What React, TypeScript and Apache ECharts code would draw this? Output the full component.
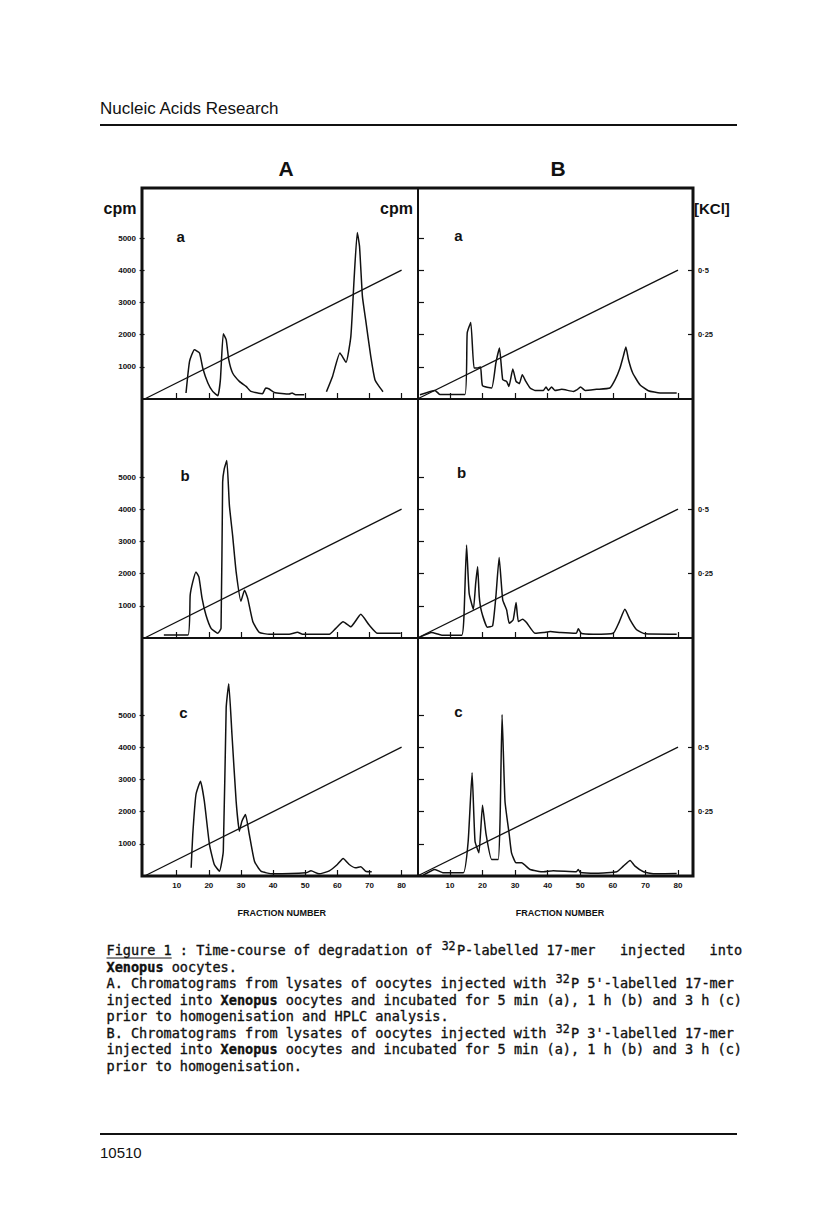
import React, { useEffect, useRef } from "react";
import * as echarts from "echarts";

// ---------- data (fraction number, cpm) ----------
const fractionTicks = [10, 20, 30, 40, 50, 60, 70, 80];
const cpmTicks = [1000, 2000, 3000, 4000, 5000];
const kclTicks = [0.25, 0.5];
const kclFraction = [0, 80];
const kclMolar = [0, 0.5];

const A_a: [number, number | null][] = [
  [12.9, 186], [14, 1168], [15.5, 1531], [17.1, 1428], [18.1, 963], [19.7, 497], [21.2, 236], [22.8, 102],
  [23.6, 600], [24.5, 2028], [25.4, 1842], [26.2, 1220], [27.4, 807], [29.5, 547], [31.6, 391], [33.1, 236],
  [36.7, 165], [37.7, 342], [38.8, 311], [40.4, 205], [45, 155], [45.9, 186], [47, 134], [49.7, 134],
  [53, null],
  [56.6, 227], [58.5, 702], [60.8, 1428], [62.7, 1137], [64.2, 1944], [65.2, 3705], [66.2, 5174], [66.9, 4739],
  [67.8, 3186], [68.8, 2463], [70.4, 1323], [71.7, 599], [73, 391], [74.2, 227],
];
const A_b: [number, number][] = [
  [6, 90], [13.5, 93], [14.2, 1331], [15, 1743], [16, 2053], [16.9, 1898], [17.9, 1229], [19.1, 712], [20.7, 300],
  [22.8, 146], [23.8, 300], [24.3, 4839], [24.8, 5252], [25.6, 5511], [26.4, 4118], [27.4, 3189], [28.5, 2053],
  [30, 1145], [31.1, 1486], [32.1, 1229], [33.7, 505], [35.7, 176], [38.8, 115], [45, 115], [47.6, 176],
  [49.2, 115], [57.5, 115], [59.5, 300], [61.8, 505], [64.2, 350], [67.3, 734], [69.9, 402], [72.5, 146], [79.7, 146],
];
const A_c: [number, number][] = [
  [14.5, 254], [15, 1289], [16, 2531], [17.4, 2944], [18.6, 2323], [20.2, 978], [21.7, 357], [23.3, 149],
  [24.5, 770], [25.4, 5224], [26.2, 5969], [27.2, 4394], [28.5, 2323], [29.5, 1391], [30.3, 1702], [31.4, 1910],
  [32.6, 1289], [34.2, 460], [36.2, 149], [39.8, 68], [50.2, 99], [51.8, 160], [54.3, 68], [57.5, 160], [60, 357],
  [61.8, 543], [63.7, 357], [65.7, 254], [67.3, 285], [68.8, 149], [70.7, 130],
];
const B_a: [number, number][] = [
  [0.8, 134], [5.4, 267], [6.9, 143], [14.6, 143], [15.3, 2050], [16.4, 2379], [17.4, 963], [18.5, 963], [19.4, 994],
  [20, 413], [22.8, 342], [24.1, 1118], [25.2, 1584], [26.2, 599], [27.4, 547], [28.1, 391], [29.3, 932], [30.3, 547],
  [31.3, 475], [32.2, 755], [33.3, 547], [34.6, 342], [36.1, 267], [38.7, 267], [39.5, 373], [40.2, 267], [41.2, 373],
  [42.2, 267], [44.3, 300], [47.9, 236], [48.9, 280], [50.1, 373], [51.5, 267], [55, 300], [59.1, 342], [60.7, 599],
  [62.2, 963], [63.2, 1323], [64, 1615], [64.8, 1220], [66.1, 807], [68.3, 444], [70.9, 258], [74.5, 186], [79.6, 186],
];
const B_b: [number, number][] = [
  [0.8, 25], [4.4, 170], [7.5, 87], [13.6, 87], [14.3, 666], [15.1, 2885], [15.9, 1387], [17.2, 892], [17.9, 1697],
  [18.5, 2214], [19, 1285], [19.7, 820], [21.5, 334], [23.1, 377], [24.1, 1285], [25.1, 2502], [26.2, 1183],
  [27.4, 873], [28.2, 458], [29.4, 563], [30.3, 1099], [31, 511], [32.3, 582], [33.5, 480], [36.1, 149], [38.7, 170],
  [40.8, 200], [44, 170], [48.8, 149], [49.4, 285], [50.4, 140], [54, 118], [60.1, 149], [62, 511], [63.7, 892],
  [65.3, 563], [67.3, 254], [69.9, 130], [79.6, 118],
];
const B_c: [number, number][] = [
  [1.8, 25], [5.4, 202], [8, 99], [14.1, 99], [15.6, 1081], [16.8, 3205], [17.7, 1081], [18.9, 720], [20, 2199],
  [21.1, 1289], [22.8, 512], [24.8, 512], [25.4, 1807], [26, 5016], [26.9, 2323], [28.2, 1289], [28.9, 720],
  [30.3, 410], [32, 410], [34.6, 202], [38.7, 130], [41.7, 161], [48.8, 130], [49.4, 202], [50, 110], [55, 85],
  [61.2, 130], [63.2, 305], [65.3, 481], [66.8, 305], [69.4, 130], [72.4, 68], [79.6, 80],
];

const panelLetters = ["a", "b", "c"];
const columnTitles = ["A", "B"];

// caption lines: [kind, text]; kinds: n normal, b bold, u underlined, s superscript
const captionLines: [string, string][][] = [
  [["u", "Figure 1"], ["n", " : Time-course of degradation of "], ["s", "32"], ["n", "P-labelled 17-mer   injected   into"]],
  [["b", "Xenopus"], ["n", " oocytes."]],
  [["n", "A. Chromatograms from lysates of oocytes injected with "], ["s", "32"], ["n", "P 5'-labelled 17-mer"]],
  [["n", "injected into "], ["b", "Xenopus"], ["n", " oocytes and incubated for 5 min (a), 1 h (b) and 3 h (c)"]],
  [["n", "prior to homogenisation and HPLC analysis."]],
  [["n", "B. Chromatograms from lysates of oocytes injected with "], ["s", "32"], ["n", "P 3'-labelled 17-mer"]],
  [["n", "injected into "], ["b", "Xenopus"], ["n", " oocytes and incubated for 5 min (a), 1 h (b) and 3 h (c)"]],
  [["n", "prior to homogenisation."]],
];

// ---------- layout ----------
const ROWS = [
  { top: 188, height: 211 },
  { top: 399, height: 239 },
  { top: 638, height: 238 },
];
const COLS = [
  { left: 142, width: 276, min: -0.8, max: 85.1 },
  { left: 418, width: 275, min: 0.2, max: 84.6 },
];
const PX_PER_CPM = 0.0322;
const CPM_PER_MOLAR = 8000;
const LETTER_POS = [
  [[180.7, 236], [458.3, 235]],
  [[185, 475], [461.7, 472]],
  [[183.3, 712], [458.3, 711]],
];

const INK = "#111";
const SANS = "Liberation Sans, Arial, sans-serif";
const MONO = "DejaVu Sans Mono, monospace";

function txt(x: number, y: number, text: string, size: number, weight: string, family: string, align = "left", extra: any = {}) {
  return {
    type: "text",
    x,
    y,
    silent: true,
    style: {
      text,
      fill: INK,
      fontSize: size,
      fontWeight: weight,
      fontFamily: family,
      align,
      textAlign: align,
      verticalAlign: "middle",
      textVerticalAlign: "middle",
      ...extra,
    },
  };
}

function line(x1: number, y1: number, x2: number, y2: number, w: number) {
  return { type: "line", silent: true, shape: { x1, y1, x2, y2 }, style: { stroke: INK, lineWidth: w } };
}

function buildOption() {
  const panels = [
    [A_a, B_a],
    [A_b, B_b],
    [A_c, B_c],
  ];
  const grid: any[] = [];
  const xAxis: any[] = [];
  const yAxis: any[] = [];
  const series: any[] = [];
  const tickStyle = { color: INK, width: 1.2 };
  const kclData = kclFraction.map((f, k) => [f, kclMolar[k]]);

  for (let r = 0; r < 3; r++) {
    for (let c = 0; c < 2; c++) {
      const i = r * 2 + c;
      const cpmMax = ROWS[r].height / PX_PER_CPM;
      grid.push({
        left: COLS[c].left,
        top: ROWS[r].top,
        width: COLS[c].width,
        height: ROWS[r].height,
        show: true,
        borderColor: INK,
        borderWidth: 2,
        backgroundColor: "transparent",
      });
      xAxis.push({
        gridIndex: i,
        type: "value",
        min: COLS[c].min,
        max: COLS[c].max,
        axisLine: { show: false },
        splitLine: { show: false },
        axisTick: { show: true, inside: true, length: 6, customValues: fractionTicks, lineStyle: tickStyle },
        axisLabel: {
          show: r === 2,
          customValues: fractionTicks,
          formatter: (v: number) => String(v),
          fontSize: 8,
          fontWeight: "bold",
          fontFamily: SANS,
          color: INK,
          margin: 5,
        },
      });
      yAxis.push({
        gridIndex: i,
        type: "value",
        min: 0,
        max: cpmMax,
        position: "left",
        axisLine: { show: false },
        splitLine: { show: false },
        axisTick: { show: true, inside: c === 1, length: c === 0 ? 5 : 6, customValues: cpmTicks, lineStyle: tickStyle },
        axisLabel: {
          show: c === 0,
          customValues: cpmTicks,
          formatter: (v: number) => String(v),
          fontSize: 8,
          fontWeight: "bold",
          fontFamily: SANS,
          color: INK,
          margin: 6,
        },
      });
      yAxis.push({
        gridIndex: i,
        type: "value",
        min: 0,
        max: cpmMax / CPM_PER_MOLAR,
        position: "right",
        show: c === 1,
        axisLine: { show: false },
        splitLine: { show: false },
        axisTick: { show: true, inside: true, length: 5, customValues: kclTicks, lineStyle: tickStyle },
        axisLabel: {
          show: true,
          customValues: kclTicks,
          formatter: (v: number) => String(v).replace(".", "·"),
          fontSize: 7.5,
          fontWeight: "bold",
          fontFamily: SANS,
          color: INK,
          margin: 5,
        },
      });
      series.push({
        type: "line",
        xAxisIndex: i,
        yAxisIndex: 2 * i,
        data: panels[r][c],
        showSymbol: false,
        symbol: "none",
        smooth: 0.15,
        connectNulls: false,
        silent: true,
        lineStyle: { color: INK, width: 1.5 },
      });
      series.push({
        type: "line",
        xAxisIndex: i,
        yAxisIndex: 2 * i + 1,
        data: kclData,
        showSymbol: false,
        symbol: "none",
        silent: true,
        lineStyle: { color: INK, width: 1.3 },
      });
    }
  }

  const g: any[] = [];
  // page header
  g.push(txt(100, 108, "Nucleic Acids Research", 17, "normal", SANS));
  g.push(line(100, 125, 737, 125, 2));
  // column titles
  g.push(txt(286, 168, columnTitles[0], 21, "bold", SANS, "center"));
  g.push(txt(558, 168, columnTitles[1], 21, "bold", SANS, "center"));
  // outer frame
  g.push({ type: "rect", silent: true, shape: { x: 142, y: 188, width: 551, height: 688 }, style: { fill: "none", stroke: INK, lineWidth: 3 } });
  // axis titles
  g.push(txt(120, 208, "cpm", 16, "bold", SANS, "center"));
  g.push(txt(396.5, 208, "cpm", 16, "bold", SANS, "center"));
  g.push(txt(694, 208, "[KCl]", 15, "bold", SANS, "left"));
  // panel letters
  for (let r = 0; r < 3; r++) {
    for (let c = 0; c < 2; c++) {
      const [x, y] = LETTER_POS[r][c];
      g.push(txt(x, y, panelLetters[r], 15, "bold", SANS, "center"));
    }
  }
  g.push(txt(281.7, 913, "FRACTION NUMBER", 9, "bold", SANS, "center"));
  g.push(txt(560, 913, "FRACTION NUMBER", 9, "bold", SANS, "center"));

  // caption (monospace columns)
  const X0 = 106.5;
  const CH = 8.15;
  const Y0 = 950;
  const LH = 16.55;
  const ink = { stroke: INK, lineWidth: 0.35 };
  captionLines.forEach((segs, li) => {
    let col = 0;
    const y = Y0 + li * LH;
    segs.forEach(([kind, t]) => {
      const x = X0 + col * CH;
      if (kind === "s") {
        g.push(txt(x + 1, y - 4, t, 11.5, "normal", MONO, "left", ink));
        col += t.length;
      } else {
        g.push(txt(x, y, t, 13.54, kind === "b" ? "bold" : "normal", MONO, "left", ink));
        if (kind === "u") g.push(line(x, y + 8, x + t.length * CH, y + 8, 1));
        col += t.length;
      }
    });
  });

  // footer
  g.push(line(100, 1134, 737, 1134, 2));
  g.push(txt(100, 1152, "10510", 15, "normal", SANS));

  return {
    animation: false,
    backgroundColor: "#fff",
    grid,
    xAxis,
    yAxis,
    series,
    graphic: { elements: g },
  };
}

export default function App() {
  const ref = useRef<HTMLDivElement>(null);
  useEffect(() => {
    if (!ref.current) return;
    const chart = echarts.init(ref.current, null, { renderer: "svg" });
    chart.setOption(buildOption() as any);
    return () => chart.dispose();
  }, []);
  return (
    <div
      ref={ref}
      style={{ position: "absolute", left: 0, top: 0, width: 816, height: 1221, background: "#fff" }}
    />
  );
}
